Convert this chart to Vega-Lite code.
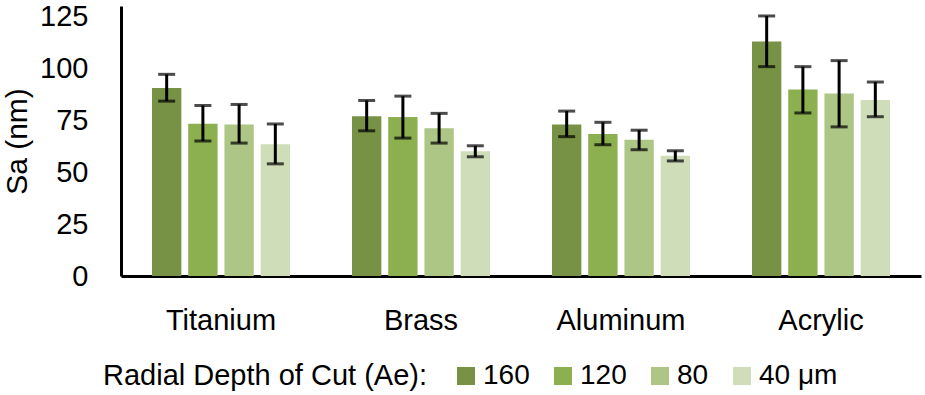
{
  "$schema": "https://vega.github.io/schema/vega-lite/v6.json",
  "autosize": "none",
  "width": 800,
  "height": 270,
  "padding": {"left": 121, "top": 6, "right": 4, "bottom": 119},
  "background": "white",
  "config": {"view": {"stroke": null}, "font": "Liberation Sans"},
  "data": {
    "values": [
      {"material": "Titanium", "depth": "160", "sa": 90.5, "lo": 84.2, "hi": 97.1},
      {"material": "Titanium", "depth": "120", "sa": 73.3, "lo": 65.0, "hi": 82.1},
      {"material": "Titanium", "depth": "80", "sa": 73.0, "lo": 64.0, "hi": 82.6},
      {"material": "Titanium", "depth": "40 μm", "sa": 63.4, "lo": 54.0, "hi": 73.2},
      {"material": "Brass", "depth": "160", "sa": 76.9, "lo": 69.9, "hi": 84.5},
      {"material": "Brass", "depth": "120", "sa": 76.6, "lo": 66.4, "hi": 86.6},
      {"material": "Brass", "depth": "80", "sa": 71.1, "lo": 64.0, "hi": 78.3},
      {"material": "Brass", "depth": "40 μm", "sa": 60.1, "lo": 57.4, "hi": 62.7},
      {"material": "Aluminum", "depth": "160", "sa": 73.0, "lo": 67.1, "hi": 79.4},
      {"material": "Aluminum", "depth": "120", "sa": 68.4, "lo": 63.2, "hi": 74.0},
      {"material": "Aluminum", "depth": "80", "sa": 65.6, "lo": 60.8, "hi": 70.2},
      {"material": "Aluminum", "depth": "40 μm", "sa": 57.9, "lo": 55.4, "hi": 60.3},
      {"material": "Acrylic", "depth": "160", "sa": 112.9, "lo": 100.8, "hi": 125.2},
      {"material": "Acrylic", "depth": "120", "sa": 89.8, "lo": 78.5, "hi": 100.8},
      {"material": "Acrylic", "depth": "80", "sa": 87.9, "lo": 71.8, "hi": 103.7},
      {"material": "Acrylic", "depth": "40 μm", "sa": 84.8, "lo": 76.7, "hi": 93.4}
    ]
  },
  "encoding": {
    "x": {
      "field": "material", "type": "nominal",
      "sort": ["Titanium", "Brass", "Aluminum", "Acrylic"],
      "scale": {"paddingInner": 0.31, "paddingOuter": 0.155},
      "axis": {
        "title": null, "labelAngle": 0, "ticks": false, "tickSize": 0,
        "domainColor": "black", "domainWidth": 3,
        "labelFontSize": 29, "labelColor": "black", "labelPadding": 30
      }
    },
    "xOffset": {
      "field": "depth", "type": "nominal",
      "sort": ["160", "120", "80", "40 μm"],
      "scale": {"paddingInner": 0.19, "paddingOuter": 0}
    }
  },
  "layer": [
    {
      "mark": {"type": "bar"},
      "encoding": {
        "y": {
          "field": "sa", "type": "quantitative",
          "scale": {"domain": [0, 130], "nice": false},
          "axis": {
            "title": "Sa (nm)", "values": [0, 25, 50, 75, 100, 125],
            "grid": false, "ticks": false, "tickSize": 0,
            "domainColor": "black", "domainWidth": 3,
            "labelFontSize": 29, "labelColor": "black", "labelPadding": 33,
            "titleFontSize": 30, "titleFontWeight": "normal", "titleColor": "black",
            "titlePadding": 7
          }
        },
        "color": {
          "field": "depth", "type": "nominal",
          "sort": ["160", "120", "80", "40 μm"],
          "scale": {
            "domain": ["160", "120", "80", "40 μm"],
            "range": ["#789245", "#8CAF50", "#ADC585", "#CFDDB8"]
          },
          "legend": {
            "title": "Radial Depth of Cut (Ae):",
            "orient": "none", "direction": "horizontal",
            "legendX": -18, "legendY": 356,
            "titleOrient": "left", "titleFontSize": 29, "titleFontWeight": "normal",
            "titleColor": "black", "titlePadding": 25, "titleLimit": 600,
            "labelFontSize": 28, "labelColor": "black", "labelOffset": 3,
            "symbolType": "square", "symbolSize": 324, "symbolStrokeWidth": 0,
            "columnPadding": 19
          }
        }
      }
    },
    {
      "mark": {"type": "rule", "color": "black", "strokeWidth": 3},
      "encoding": {
        "y": {"field": "lo", "type": "quantitative"},
        "y2": {"field": "hi"}
      }
    },
    {
      "mark": {"type": "tick", "color": "black", "thickness": 3, "size": 17, "orient": "horizontal"},
      "encoding": {"y": {"field": "lo", "type": "quantitative"}}
    },
    {
      "mark": {"type": "tick", "color": "black", "thickness": 3, "size": 17, "orient": "horizontal"},
      "encoding": {"y": {"field": "hi", "type": "quantitative"}}
    }
  ]
}
